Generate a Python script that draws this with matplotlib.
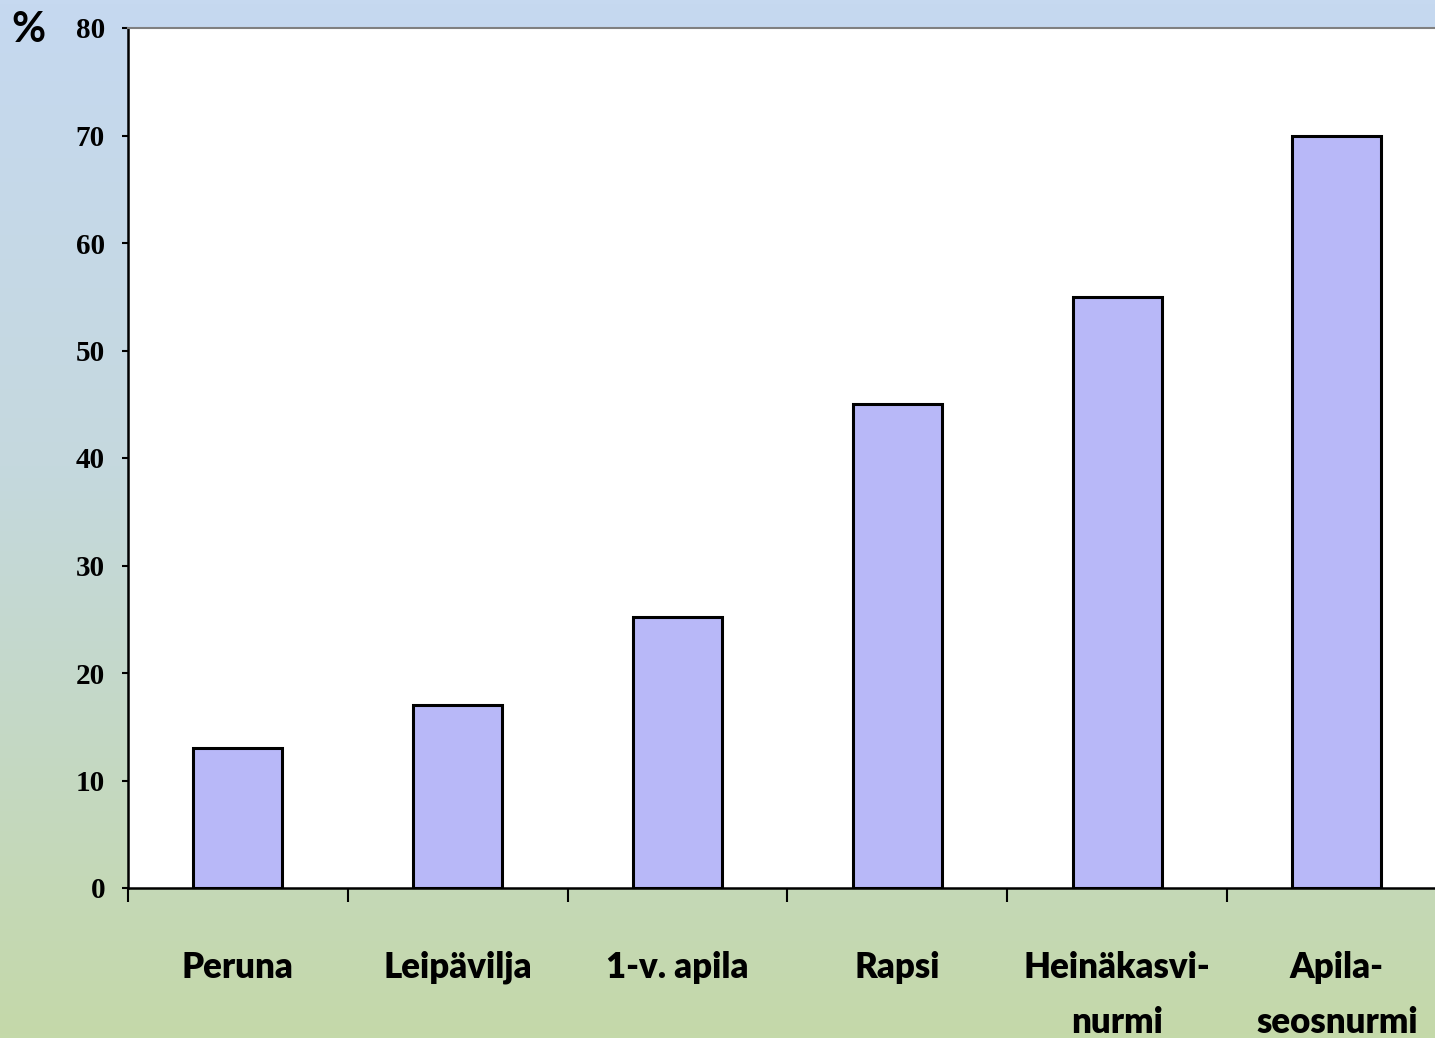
import numpy as np
import matplotlib
matplotlib.use("Agg")
import matplotlib.pyplot as plt
from matplotlib.colors import LinearSegmentedColormap

categories = ["Peruna", "Leipävilja", "1-v. apila", "Rapsi", "Heinäkasvi-\nnurmi", "Apila-\nseosnurmi"]
values = [13, 17, 25.2, 45, 55, 70]
yticks = [0, 10, 20, 30, 40, 50, 60, 70, 80]

W, H = 1435, 1038
fig = plt.figure(figsize=(W / 100, H / 100), dpi=100)

# gradient background
bg = fig.add_axes([0, 0, 1, 1], zorder=-10)
cmap = LinearSegmentedColormap.from_list(
    "bg", [(0.0, "#c6d9f0"), (0.45, "#c5d8de"), (1.0, "#c4d9a9")])
grad = np.linspace(0, 1, 256).reshape(-1, 1)
bg.imshow(grad, aspect="auto", cmap=cmap, extent=[0, 1, 0, 1], origin="upper")
bg.set_axis_off()

left = 128 / W
bottom = (H - 888) / H
width = (6 * 219.8) / W
height = 860 / H
ax = fig.add_axes([left, bottom, width, height])
ax.set_facecolor("white")

x = np.arange(len(categories))
ax.bar(x, values, width=0.405, color="#b8b8f8", edgecolor="black", linewidth=2.2, zorder=3)

ax.set_xlim(-0.5, len(categories) - 0.5)
ax.set_ylim(0, 80)

ax.set_yticks(yticks)
ax.set_yticklabels([str(t) for t in yticks], fontfamily="Liberation Serif",
                   fontweight="bold", fontsize=21)
ax.tick_params(axis="y", direction="out", length=4.5, width=1.5, pad=12)

ax.set_xticks(x)
ax.set_xticklabels(categories, fontfamily="Lato", fontweight="heavy",
                   fontsize=25, linespacing=1.85, va="top")
ax.tick_params(axis="x", which="major", length=0, pad=45)
ax.set_xticks(np.arange(len(categories) + 1) - 0.5, minor=True)
ax.tick_params(axis="x", which="minor", direction="out", length=10, width=1.5)

for s in ["left", "bottom"]:
    ax.spines[s].set_linewidth(1.8)
    ax.spines[s].set_color("black")
ax.spines["top"].set_color("#808080")
ax.spines["top"].set_linewidth(1.5)
ax.spines["right"].set_visible(False)

fig.text(28 / W, 1 - 30 / H, "%", fontfamily="Lato", fontweight="bold",
         fontsize=30, ha="center", va="center")

fig.savefig("out.png", dpi=100)
